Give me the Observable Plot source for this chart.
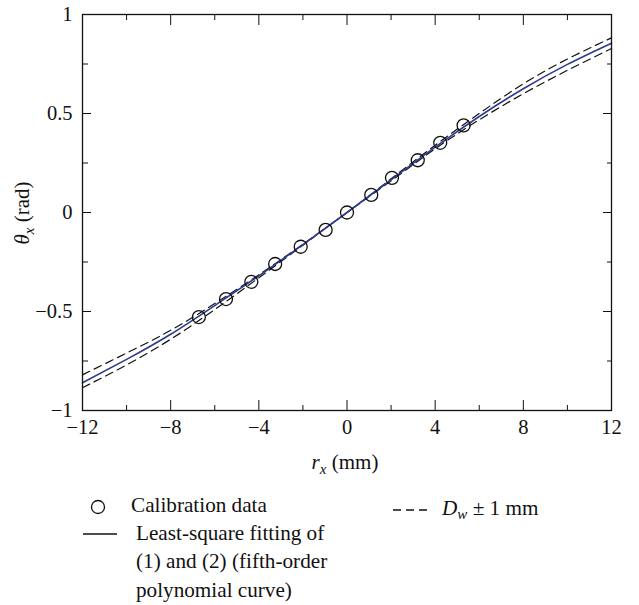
<!DOCTYPE html>
<html><head><meta charset="utf-8">
<script src="https://cdn.jsdelivr.net/npm/d3@7"></script>
<script src="https://cdn.jsdelivr.net/npm/@observablehq/plot@0.6"></script>
<style>
body{margin:0;background:#fff;}
#wrap{position:relative;width:639px;height:605px;font-family:"Liberation Serif","DejaVu Serif",serif;color:#111;overflow:hidden;}
.lg{position:absolute;font-size:21.2px;line-height:28.5px;white-space:nowrap;}
#sym{position:absolute;left:0;top:480px;}
</style></head><body><div id="wrap"></div>
<script>
// Calibration data (circles)
const calibX = [-6.72, -5.49, -4.34, -3.26, -2.10, -0.97, 0, 1.10, 2.04, 3.21, 4.23, 5.29];
const calibY = [-0.528, -0.437, -0.350, -0.260, -0.173, -0.088, 0, 0.089, 0.175, 0.264, 0.352, 0.440];
// Curves
const curveX = [-12, -10, -8, -6, -4, -2, 0, 2, 4, 6, 8, 10, 12];
const fitY   = [-0.860, -0.742, -0.615, -0.470, -0.320, -0.162, 0, 0.165, 0.330, 0.485, 0.625, 0.748, 0.855];
const upperY = [-0.820, -0.710, -0.595, -0.460, -0.315, -0.160, 0, 0.170, 0.340, 0.500, 0.650, 0.775, 0.882];
const lowerY = [-0.885, -0.770, -0.640, -0.490, -0.330, -0.165, 0, 0.160, 0.322, 0.468, 0.600, 0.718, 0.828];
// Ticks
const xMajor = [-12, -8, -4, 0, 4, 8, 12];
const xMinor = [-10, -6, -2, 2, 6, 10];
const yMajor = [-1, -0.5, 0, 0.5, 1];
const yMinor = [-0.75, -0.25, 0.25, 0.75];

const calib = calibX.map((x, i) => ({x, y: calibY[i]}));
const fit = curveX.map((x, i) => ({x, y: fitY[i]}));
const upper = curveX.map((x, i) => ({x, y: upperY[i]}));
const lower = curveX.map((x, i) => ({x, y: lowerY[i]}));
const fmt = d => d < 0 ? "\u2212" + Math.abs(d) : String(d);
const blank = () => "";

const chart = Plot.plot({
  width: 639, height: 480,
  marginLeft: 82, marginRight: 28, marginTop: 14, marginBottom: 70,
  style: {fontFamily: "Liberation Serif, DejaVu Serif, serif", fontSize: "20.5px", color: "#111", background: "#fff"},
  x: {domain: [-12, 12]},
  y: {domain: [-1, 1]},
  marks: [
    Plot.line(lower, {x: "x", y: "y", curve: "natural", stroke: "#111", strokeWidth: 1.2, strokeDasharray: "8,5"}),
    Plot.line(upper, {x: "x", y: "y", curve: "natural", stroke: "#111", strokeWidth: 1.2, strokeDasharray: "8,5"}),
    Plot.line(fit, {x: "x", y: "y", curve: "natural", stroke: "#2f3b8f", strokeWidth: 1.6}),
    Plot.dot(calib, {x: "x", y: "y", r: 6.5, stroke: "#111", strokeWidth: 1.3, fill: "none"}),
    // inward ticks
    Plot.axisX(xMajor, {anchor: "bottom", tickSize: 10, dy: -10, tickFormat: blank, label: null}),
    Plot.axisX(xMinor, {anchor: "bottom", tickSize: 5, dy: -5, tickFormat: blank, label: null}),
    Plot.axisX(xMajor, {anchor: "top", tickSize: 10, dy: 10, tickFormat: blank, label: null}),
    Plot.axisX(xMinor, {anchor: "top", tickSize: 5, dy: 5, tickFormat: blank, label: null}),
    Plot.axisY(yMajor, {anchor: "left", tickSize: 9, dx: 9, tickFormat: blank, label: null}),
    Plot.axisY(yMinor, {anchor: "left", tickSize: 6, dx: 6, tickFormat: blank, label: null}),
    Plot.axisY(yMajor, {anchor: "right", tickSize: 9, dx: -9, tickFormat: blank, label: null}),
    Plot.axisY(yMinor, {anchor: "right", tickSize: 5, dx: -5, tickFormat: blank, label: null}),
    // labels
    Plot.axisX(xMajor, {anchor: "bottom", tickSize: 0, tickPadding: 9, tickFormat: fmt, fontSize: 20.5, label: null}),
    Plot.axisY(yMajor, {anchor: "left", tickSize: 0, tickPadding: 10, tickFormat: fmt, fontSize: 20.5, label: null}),
    Plot.frame({stroke: "#111", strokeWidth: 1.3})
  ]
});

document.getElementById("wrap").appendChild(chart);
const svg = d3.select(chart);
// y-axis title
const yt = svg.append("text").attr("transform", "translate(29,213) rotate(-90)")
  .attr("text-anchor", "middle").attr("font-size", 21).attr("fill", "#111");
yt.append("tspan").attr("font-style", "italic").text("\u03b8");
yt.append("tspan").attr("font-style", "italic").attr("font-size", 15).attr("dy", 5).text("x");
yt.append("tspan").attr("dy", -5).text(" (rad)");
// x-axis title
const xt = svg.append("text").attr("x", 345).attr("y", 469)
  .attr("text-anchor", "middle").attr("font-size", 21).attr("fill", "#111");
xt.append("tspan").attr("font-style", "italic").text("r");
xt.append("tspan").attr("font-style", "italic").attr("font-size", 15).attr("dy", 5).text("x");
xt.append("tspan").attr("dy", -5).text(" (mm)");

// Legend below the chart
const wrap = d3.select("#wrap");
const sym = wrap.append("svg").attr("id", "sym").attr("width", 639).attr("height", 125);
sym.append("circle").attr("cx", 98).attr("cy", 27).attr("r", 6.5).attr("fill", "none").attr("stroke", "#111").attr("stroke-width", 1.3);
sym.append("line").attr("x1", 83).attr("x2", 117).attr("y1", 54).attr("y2", 54).attr("stroke", "#111").attr("stroke-width", 1.3);
sym.append("line").attr("x1", 393).attr("x2", 428).attr("y1", 30).attr("y2", 30).attr("stroke", "#111").attr("stroke-width", 1.3).attr("stroke-dasharray", "8,5");
const rows = [
  {left: 131, top: 490.5, html: "Calibration data"},
  {left: 136, top: 518.5, html: "Least-square fitting of"},
  {left: 136, top: 546.5, html: "(1) and (2) (fifth-order"},
  {left: 136, top: 575.5, html: "polynomial curve)"},
  {left: 442, top: 493.5, html: "<i>D</i><sub style='font-size:15px;vertical-align:-4px;line-height:0'><i>w</i></sub> \u00b1 1 mm"}
];
rows.forEach(r => wrap.append("div").attr("class", "lg").style("left", r.left + "px").style("top", r.top + "px").html(r.html));
</script>
</body></html>
